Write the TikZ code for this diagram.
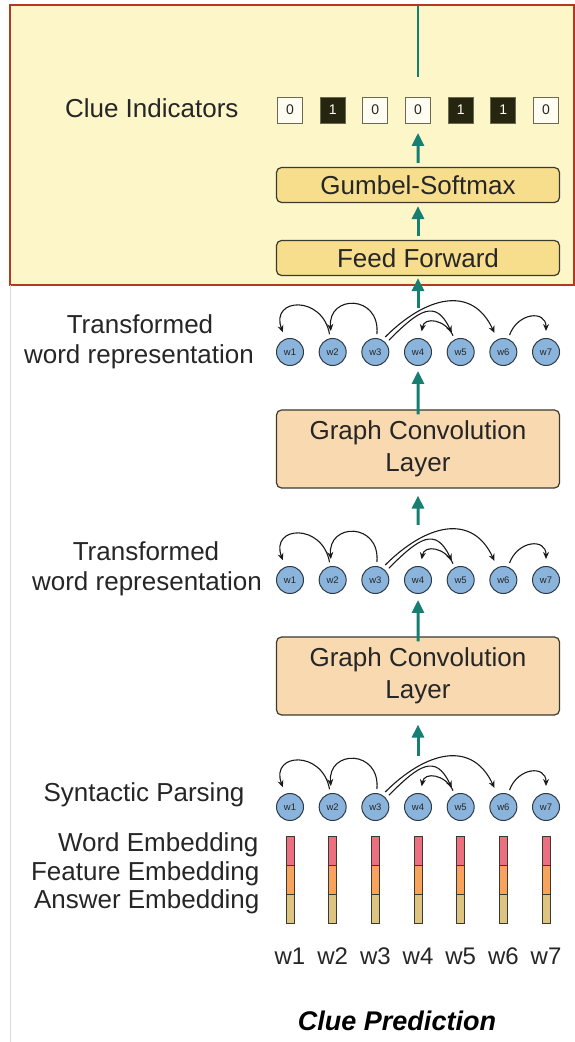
\documentclass[tikz,border=0pt]{standalone}
\usepackage{fontspec}
\setmainfont{Liberation Sans}
\usetikzlibrary{positioning}
\usetikzlibrary{arrows.meta}

\definecolor{panelYellow}{HTML}{FCF6C9}
\definecolor{panelRed}{HTML}{B23A25}
\definecolor{boxGold}{HTML}{F7DE8C}
\definecolor{boxPeach}{HTML}{F9DAB0}
\definecolor{boxEdge}{HTML}{3A3A2E}
\definecolor{circleBlue}{HTML}{8AB4DC}
\definecolor{circleEdge}{HTML}{2E3A46}
\definecolor{flowTeal}{HTML}{177E72}
\definecolor{clueDark}{HTML}{26250F}
\definecolor{clueWhite}{HTML}{FFFDF2}
\definecolor{clueEdge}{HTML}{6B6A50}
\definecolor{embPink}{HTML}{EC6F80}
\definecolor{embOrange}{HTML}{F7A35C}
\definecolor{embTan}{HTML}{DDC480}
\definecolor{textGray}{HTML}{262626}

\begin{document}
\begin{tikzpicture}
    [x=1pt, y=1pt, font=\fontsize{26}{30}\selectfont, text=textGray,
     wordCircle/.style={circle, draw=circleEdge, line width=1pt, fill=circleBlue, inner sep=0pt, minimum size=27pt, font=\fontsize{9.5}{9.5}\selectfont},
     clueZero/.style={rectangle, draw=clueEdge, line width=0.9pt, fill=clueWhite, inner sep=0pt, outer sep=0pt, minimum width=25pt, minimum height=26pt, font=\fontsize{14}{14}\selectfont},
     clueOne/.style={clueZero, fill=clueDark, text=white},
     goldBox/.style={rectangle, rounded corners=5pt, draw=boxEdge, line width=1.2pt, fill=boxGold, minimum width=283pt, minimum height=35pt, inner sep=0pt},
     convBox/.style={rectangle, rounded corners=5pt, draw=boxEdge, line width=1.2pt, fill=boxPeach, minimum width=283pt, minimum height=78pt, inner sep=0pt, align=center, font=\fontsize{26}{32}\selectfont},
     embPart/.style={rectangle, draw=boxEdge, line width=0.8pt, inner sep=0pt, outer sep=0pt, minimum width=8pt, minimum height=29pt},
     flowArrow/.style={-{Triangle[length=13pt,width=12pt]}, draw=flowTeal, line width=3pt},
     depArc/.style={-{Stealth[length=7pt,width=6pt]}, draw=black!90, line width=1.1pt, shorten <=4pt, shorten >=7pt},
    ]

    \useasboundingbox (0,0) rectangle (575,1042);

    % clue prediction panel
    \draw[panelRed, line width=1.6pt, fill=panelYellow] (10,757) rectangle (574,1037);
    \draw[black!15, line width=1pt] (10,0) -- (10,757);

    \node[clueZero] (clue1) at (290,932) {0};
    \node[clueOne] (clue2) [right=17.67pt of clue1] {1};
    \node[clueZero] (clue3) [right=17.67pt of clue2] {0};
    \node[clueZero] (clue4) [right=17.67pt of clue3] {0};
    \node[clueOne] (clue5) [right=17.67pt of clue4] {1};
    \node[clueOne] (clue6) [right=17.67pt of clue5] {1};
    \node[clueZero] (clue7) [right=17.67pt of clue6] {0};
    \node[anchor=base east] (clueLabel) at (242,924) {Clue Indicators};

    \coordinate (panelTop) at (418,1037);
    \draw[flowTeal, line width=2.5pt] (panelTop) -- ++(0,-72);

    \node[goldBox] (gumbel) at (418,857) {Gumbel-Softmax};
    \node[goldBox] (feedFwd) at (418,784) {Feed Forward};
    \draw[flowArrow] ([yshift=4pt]gumbel.north) -- ([yshift=-10pt]clue4.south);
    \draw[flowArrow] ([yshift=4pt]feedFwd.north) -- ([yshift=-3pt]gumbel.south);

    % graph convolution layers
    \node[convBox] (convTop) at (418,593) {Graph Convolution\\Layer};
    \node[convBox] (convBottom) at (418,366) {Graph Convolution\\Layer};

    % word rows
    \foreach \row/\ypos in {top/690, mid/462, bot/235} {
        \foreach \i in {1,...,7}
            \node[wordCircle] (\row W\i) at ({290+42.67*(\i-1)},\ypos) {w\i};
        \path (\row W2) edge[depArc, out=100, in=110, looseness=2.5] (\row W1)
              (\row W3) edge[depArc, out=85, in=95, looseness=2.5] (\row W2)
              (\row W3.40) edge[depArc, out=45, in=115, looseness=1.7] (\row W5)
              (\row W3.60) edge[depArc, out=45, in=115, looseness=1.35] (\row W6)
              (\row W5.115) edge[depArc, out=115, in=80, looseness=1.65] (\row W4)
              (\row W6) edge[depArc, out=70, in=90, looseness=1.9] (\row W7);
    }

    \draw[flowArrow] ([yshift=-32pt]feedFwd.south) -- ([yshift=-2pt]feedFwd.south);
    \draw[flowArrow] ([yshift=-5pt]convTop.north) -- ([yshift=-5pt]topW4.south);
    \draw[flowArrow] ([yshift=41pt]midW4.north) -- ([yshift=-7pt]convTop.south);
    \draw[flowArrow] ([yshift=-5pt]convBottom.north) -- ([yshift=-6pt]midW4.south);
    \draw[flowArrow] ([yshift=-40pt]convBottom.south) -- ([yshift=-9pt]convBottom.south);

    \node[anchor=base] (topTrans) at (140,708) {Transformed};
    \node[anchor=base] (topRepr) at (139,678) {word representation};
    \node[anchor=base] (midTrans) at (146,481) {Transformed};
    \node[anchor=base] (midRepr) at (147,451) {word representation};
    \node[anchor=base east] (parseLabel) at (248,240) {Syntactic Parsing};

    % embeddings
    \foreach \i in {1,...,7} {
        \node[embPart, fill=embPink] (wordEmb\i) at ({290+42.67*(\i-1)},191.5) {};
        \node[embPart, fill=embOrange] (featEmb\i) [below=0pt of wordEmb\i] {};
        \node[embPart, fill=embTan] (ansEmb\i) [below=0pt of featEmb\i] {};
        \node[anchor=base, font=\fontsize{24}{30}\selectfont] (word\i) at ({290+42.67*(\i-1)},77) {w\i};
    }
    \node[anchor=base east] (wordEmbLabel) at (262,190) {Word Embedding};
    \node[anchor=base east] (featEmbLabel) at (263,161) {Feature Embedding};
    \node[anchor=base east] (ansEmbLabel) at (263,133) {Answer Embedding};

    \node[anchor=base, font=\fontsize{27}{30}\selectfont\bfseries\itshape, text=black] (caption) at (397,11) {Clue Prediction};

\end{tikzpicture}
\end{document}
